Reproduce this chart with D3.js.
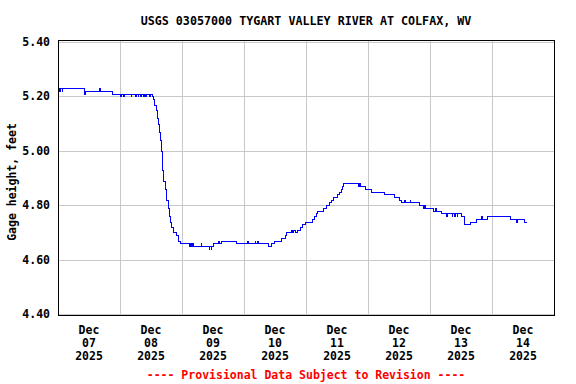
<!DOCTYPE html>
<html>
<head>
<meta charset="utf-8">
<script src="https://cdn.jsdelivr.net/npm/d3@7"></script>
<style>
  body { margin: 0; background: #fff; }
  text { font-family: "DejaVu Sans Mono", "Liberation Mono", monospace; font-weight: bold; font-size: 11.5px; }
</style>
</head>
<body>
<div id="chart"></div>
<script>
// hours since Dec 07 2025 00:00 and gage height (ft), step data
const hours = [0, 0.3, 0.7, 1.0, 1.6, 1.9, 10.4, 10.7, 16.1, 16.4, 21.0, 24.0, 24.4, 25.5, 25.8,
  28.3, 28.6, 30.0, 30.3, 31.0, 31.3, 32.0, 32.3, 33.0, 33.3, 34.0, 34.3, 35.5, 35.8, 36.5,
  37.0, 37.5, 38.0, 38.4, 38.8, 39.1, 39.5, 39.9, 40.3, 40.6, 41.0, 41.5, 42.1, 42.6, 43.1,
  43.6, 44.1, 44.9, 45.7, 46.7, 47.5, 51.0, 51.3, 51.7, 52.0, 52.3, 55.4, 55.7, 58.5, 58.8,
  59.3, 59.6, 60.0, 62.0, 62.4, 63.4, 69.2, 73.3, 73.6, 76.3, 76.6, 77.2, 77.6, 81.6, 82.7,
  83.9, 86.6, 87.9, 88.4, 90.3, 90.8, 91.3, 92.0, 92.6, 93.7, 94.5, 95.8, 98.7, 99.2, 99.9,
  100.6, 102.6, 104.0, 105.2, 106.0, 106.8, 108.0, 109.0, 109.7, 110.0, 110.4, 116.3, 116.6,
  117.0, 119.0, 121.4, 126.4, 130.2, 132.2, 133.0, 134.3, 134.6, 136.3, 136.6, 139.9, 141.4,
  142.0, 142.4, 145.5, 146.0, 146.4, 148.3, 150.5, 150.8, 152.6, 152.9, 153.6, 153.9, 154.5,
  154.8, 156.3, 157.4, 159.6, 162.0, 163.9, 164.2, 166.4, 175.0, 177.5, 177.8, 180.6, 181.4];
const gage = [5.22, 5.23, 5.22, 5.23, 5.22, 5.23, 5.21, 5.22, 5.23, 5.22, 5.21, 5.20, 5.21, 5.20, 5.21,
  5.20, 5.21, 5.20, 5.21, 5.20, 5.21, 5.20, 5.21, 5.20, 5.21, 5.20, 5.21, 5.20, 5.21, 5.20,
  5.19, 5.17, 5.15, 5.12, 5.10, 5.07, 5.04, 5.00, 4.97, 4.93, 4.89, 4.86, 4.82, 4.79, 4.76,
  4.74, 4.72, 4.70, 4.69, 4.67, 4.66, 4.65, 4.66, 4.65, 4.66, 4.65, 4.66, 4.65, 4.64, 4.65,
  4.64, 4.65, 4.66, 4.67, 4.66, 4.67, 4.66, 4.67, 4.66, 4.67, 4.66, 4.67, 4.66, 4.65, 4.66,
  4.67, 4.68, 4.69, 4.70, 4.71, 4.70, 4.71, 4.70, 4.71, 4.72, 4.73, 4.74, 4.75, 4.76, 4.77,
  4.78, 4.79, 4.80, 4.81, 4.82, 4.83, 4.84, 4.85, 4.86, 4.87, 4.88, 4.87, 4.88,
  4.87, 4.86, 4.85, 4.84, 4.83, 4.82, 4.81, 4.82, 4.81, 4.82, 4.81, 4.80, 4.79,
  4.80, 4.79, 4.78, 4.79, 4.78, 4.77, 4.76, 4.77, 4.76, 4.77, 4.76, 4.77, 4.76,
  4.77, 4.76, 4.73, 4.74, 4.75, 4.76, 4.75, 4.76, 4.75, 4.74, 4.75, 4.74, 4.74];

const yTicks = [4.40, 4.60, 4.80, 5.00, 5.20, 5.40];
const days = ["07", "08", "09", "10", "11", "12", "13", "14"];
const title = "USGS 03057000 TYGART VALLEY RIVER AT COLFAX, WV";
const yLabel = "Gage height, feet";
const footer = "---- Provisional Data Subject to Revision ----";

const W = 576, H = 384;
const plotL = 58, plotR = 554, plotT = 40, plotB = 315;
const start = new Date(2025, 11, 7), end = new Date(2025, 11, 15);

const svg = d3.select("#chart").append("svg")
  .attr("width", W).attr("height", H);

const x = d3.scaleTime().domain([start, end]).range([plotL, plotR]);
const y = d3.scaleLinear().domain([4.40, 5.40]).range([314, 42]);

// gridlines
svg.append("g").selectAll("line")
  .data(yTicks)
  .join("line")
  .attr("x1", plotL).attr("x2", plotR)
  .attr("y1", d => Math.round(y(d)) + 0.5).attr("y2", d => Math.round(y(d)) + 0.5)
  .attr("stroke", "#c8c8c8");

const dayLines = d3.timeDay.range(d3.timeDay.offset(start, 1), end);
svg.append("g").selectAll("line")
  .data(dayLines)
  .join("line")
  .attr("x1", d => Math.round(x(d)) + 0.5).attr("x2", d => Math.round(x(d)) + 0.5)
  .attr("y1", plotT).attr("y2", plotB)
  .attr("stroke", "#c8c8c8");

// data line
const pts = hours.map((h, i) => [new Date(start.getTime() + h * 3600e3), gage[i]]);
const line = d3.line()
  .x(d => x(d[0]))
  .y(d => Math.round(y(d[1])) + 0.5)
  .curve(d3.curveStepAfter);

svg.append("path")
  .datum(pts)
  .attr("d", line)
  .attr("fill", "none")
  .attr("stroke", "#0000ff")
  .attr("stroke-width", 1)
  .attr("shape-rendering", "crispEdges");

// frame
svg.append("rect")
  .attr("x", plotL + 0.5).attr("y", plotT + 0.5)
  .attr("width", plotR - plotL).attr("height", plotB - plotT)
  .attr("fill", "none").attr("stroke", "#000");

// y tick labels
svg.append("g").selectAll("text")
  .data(yTicks)
  .join("text")
  .attr("x", 50)
  .attr("y", d => y(d))
  .attr("dy", "0.35em")
  .attr("text-anchor", "end")
  .text(d => d.toFixed(2));

// x tick labels at noon of each day
const xl = svg.append("g").selectAll("text")
  .data(days)
  .join("text")
  .attr("text-anchor", "middle");
xl.each(function (d, i) {
  const cx = x(new Date(2025, 11, 7 + i, 12));
  const t = d3.select(this);
  ["Dec", d, "2025"].forEach((s, k) => {
    t.append("tspan").attr("x", cx).attr("y", 334 + k * 13).text(s);
  });
});

// title, axis label, footer
svg.append("text")
  .attr("x", 306).attr("y", 25)
  .attr("text-anchor", "middle")
  .style("font-size", "11.7px")
  .text(title);

svg.append("text")
  .attr("transform", "translate(16,182) rotate(-90)")
  .attr("text-anchor", "middle")
  .text(yLabel);

svg.append("text")
  .attr("x", 306).attr("y", 379)
  .attr("text-anchor", "middle")
  .attr("fill", "#ff0000")
  .text(footer);
</script>
</body>
</html>
